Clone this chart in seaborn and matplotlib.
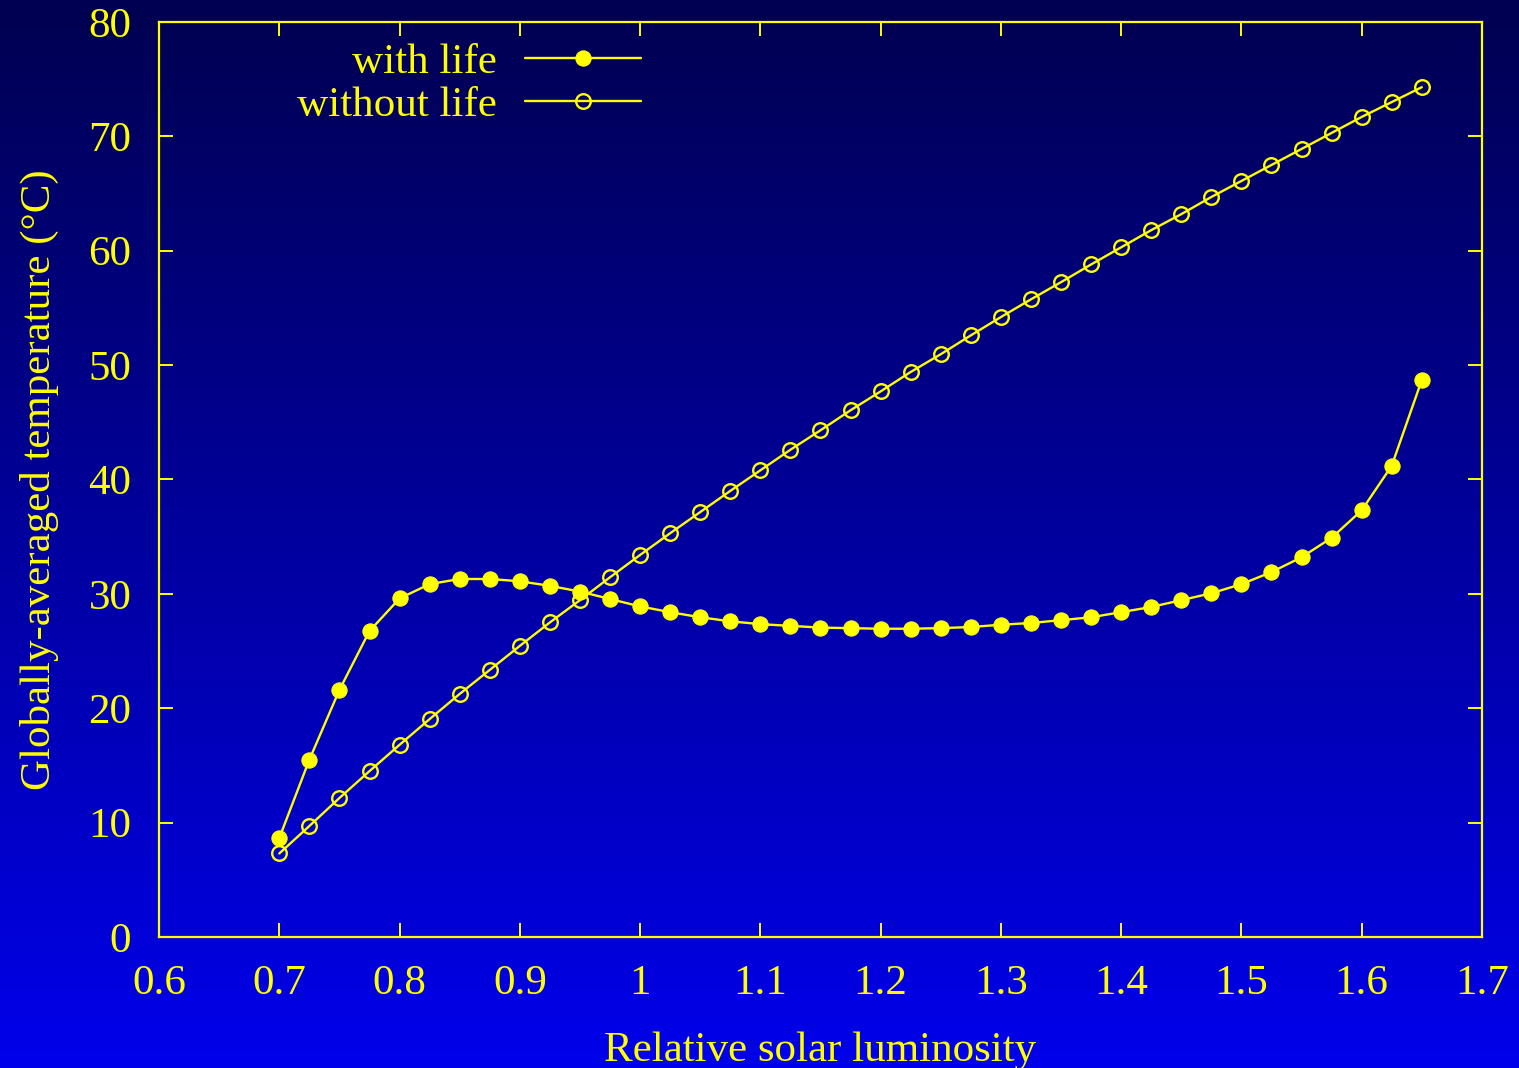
import numpy as np
import pandas as pd
import seaborn as sns
import matplotlib.pyplot as plt

# Data
luminosity = [0.700, 0.725, 0.750, 0.775, 0.800, 0.825, 0.850, 0.875, 0.900, 0.925,
              0.950, 0.975, 1.000, 1.025, 1.050, 1.075, 1.100, 1.125, 1.150, 1.175,
              1.200, 1.225, 1.250, 1.275, 1.300, 1.325, 1.350, 1.375, 1.400, 1.425,
              1.450, 1.475, 1.500, 1.525, 1.550, 1.575, 1.600, 1.625, 1.650]

temp_with_life = [8.65, 15.5, 21.6, 26.75, 29.6, 30.85, 31.3, 31.3, 31.1, 30.7,
                  30.2, 29.55, 28.9, 28.4, 27.95, 27.6, 27.35, 27.2, 27.05, 27.0,
                  26.95, 26.95, 27.0, 27.1, 27.3, 27.45, 27.7, 27.95, 28.4, 28.85,
                  29.45, 30.05, 30.85, 31.9, 33.2, 34.9, 37.3, 41.2, 48.7]

temp_without_life = [7.3, 9.7, 12.15, 14.5, 16.8, 19.05, 21.25, 23.35, 25.45, 27.5,
                     29.45, 31.45, 33.4, 35.3, 37.15, 39.0, 40.8, 42.6, 44.3, 46.05,
                     47.7, 49.4, 50.95, 52.6, 54.2, 55.75, 57.25, 58.8, 60.3, 61.8,
                     63.2, 64.7, 66.1, 67.5, 68.9, 70.3, 71.7, 73.0, 74.3]

df = pd.DataFrame({'lum': luminosity, 'with': temp_with_life, 'without': temp_without_life})

sns.set_style('ticks')
plt.rcParams['font.family'] = ['Liberation Serif', 'DejaVu Serif']
yellow = '#ffff00'

fig = plt.figure(figsize=(15.19, 10.68), dpi=100)

# gradient background over the whole figure
bg = fig.add_axes([0, 0, 1, 1], zorder=-1)
grad = np.linspace(0, 1, 256).reshape(-1, 1)
top = np.array([0, 0, 80]) / 255
bot = np.array([0, 0, 235]) / 255
img = top + grad[..., None] * (bot - top)
bg.imshow(img, aspect='auto', extent=[0, 1, 0, 1], origin='upper')
bg.axis('off')

ax = fig.add_axes([0.1047, 0.1227, 0.8709, 0.8567])
ax.set_facecolor('none')

sns.lineplot(data=df, x='lum', y='with', ax=ax, color=yellow, lw=1.7,
             marker='o', markersize=11, markerfacecolor=yellow, markeredgecolor=yellow,
             label='with life')
sns.lineplot(data=df, x='lum', y='without', ax=ax, color=yellow, lw=1.7,
             marker='o', markersize=10.5, markerfacecolor='none', markeredgecolor=yellow,
             markeredgewidth=1.7, label='without life')

ax.set_xlim(0.6, 1.7)
ax.set_ylim(0, 80)
ax.set_xticks(np.arange(0.6, 1.71, 0.1))
ax.set_xticklabels(['0.6', '0.7', '0.8', '0.9', '1', '1.1', '1.2', '1.3', '1.4', '1.5', '1.6', '1.7'])
ax.set_yticks(np.arange(0, 81, 10))

for s in ax.spines.values():
    s.set_visible(True)
    s.set_color(yellow)
    s.set_linewidth(1.6)
ax.tick_params(direction='in', length=10, width=1.4, color=yellow, labelcolor=yellow,
               labelsize=31, top=True, right=True, pad=20)

ax.set_xlabel('Relative solar luminosity', color=yellow, fontsize=31, labelpad=20)
ax.set_ylabel('Globally-averaged temperature (°C)', color=yellow, fontsize=31, labelpad=21)

leg = ax.legend(loc='upper left', bbox_to_anchor=(0.075, 1.02), frameon=False,
                fontsize=31, markerfirst=False, handlelength=2.7, handletextpad=0.65,
                labelspacing=0.1)
for t in leg.get_texts():
    t.set_color(yellow)
    t.set_ha('right')
leg._legend_box.align = 'right'

fig.savefig('out.png', dpi=100)
